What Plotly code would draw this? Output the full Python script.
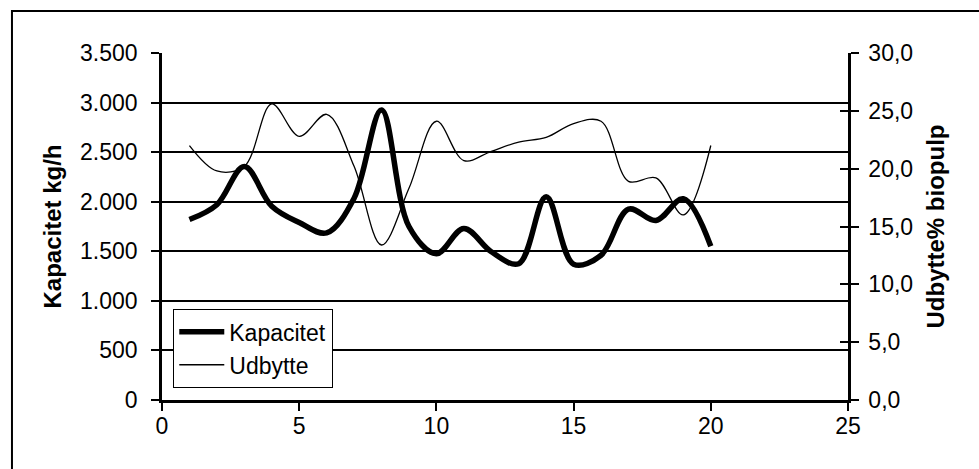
import plotly.graph_objects as go

# Measurement points
maaling = list(range(1, 21))

# Capacity, kg/h (left axis)
kapacitet = [1820, 1970, 2355, 1955, 1790, 1685, 2035, 2925, 1750, 1475,
             1730, 1495, 1375, 2050, 1370, 1460, 1925, 1810, 2030, 1550]

# Yield % biopulp (right axis)
udbytte = [22.0, 19.8, 20.2, 25.6, 22.8, 24.7, 20.2, 13.4, 18.3, 24.1,
           20.7, 21.5, 22.3, 22.7, 23.9, 24.1, 18.9, 19.2, 16.0, 22.0]

left_ticks = [0, 500, 1000, 1500, 2000, 2500, 3000, 3500]
right_ticks = [0, 5, 10, 15, 20, 25, 30]
x_ticks = [0, 5, 10, 15, 20, 25]

FONT = "Liberation Sans, Arial, sans-serif"
FS = 23
TFS = 24

fig = go.Figure()
fig.add_trace(go.Scatter(
    x=maaling, y=kapacitet, name="Kapacitet", mode="lines",
    line=dict(color="black", width=5.5, shape="spline", smoothing=1.0),
    yaxis="y"))
fig.add_trace(go.Scatter(
    x=maaling, y=udbytte, name="Udbytte", mode="lines",
    line=dict(color="black", width=1.3, shape="spline", smoothing=1.0),
    yaxis="y2"))

fig.update_layout(
    width=979, height=469,
    margin=dict(l=162, r=131, t=53, b=69),
    paper_bgcolor="white", plot_bgcolor="white",
    separators=",.",
    font=dict(family=FONT, size=FS, color="black"),
    showlegend=True,
    legend=dict(
        x=0.016, y=0.262, xanchor="left", yanchor="top",
        bgcolor="white", bordercolor="black", borderwidth=1.3,
        font=dict(family=FONT, size=FS, color="black"),
        tracegroupgap=0, itemwidth=45,
    ),
    xaxis=dict(
        range=[0, 25], tickvals=x_ticks, showgrid=False, zeroline=False,
        showline=True, linecolor="black", linewidth=2.5,
        ticks="outside", ticklen=8, tickwidth=1.5, tickcolor="black",
        tickfont=dict(family=FONT, size=FS), ticklabelstandoff=-4,
    ),
    yaxis=dict(
        range=[0, 3500], tickvals=left_ticks, tickformat=",d",
        showgrid=True, gridcolor="black", gridwidth=1.5, zeroline=False,
        showline=True, linecolor="black", linewidth=2.5,
        ticks="outside", ticklen=8, tickwidth=1.5, tickcolor="black",
        tickfont=dict(family=FONT, size=FS), ticklabelstandoff=9,
        title=dict(text="<b>Kapacitet kg/h</b>", font=dict(family=FONT, size=TFS), standoff=12),
    ),
    yaxis2=dict(
        range=[0, 30], tickvals=right_ticks, tickformat=".1f",
        overlaying="y", side="right", showgrid=False, zeroline=False,
        showline=True, linecolor="black", linewidth=2.5,
        ticks="outside", ticklen=8, tickwidth=1.5, tickcolor="black",
        tickfont=dict(family=FONT, size=FS), ticklabelstandoff=5,
        title=dict(text="<b>Udbytte% biopulp</b>", font=dict(family=FONT, size=TFS), standoff=16),
    ),
    yaxis3=dict(
        range=[0, 30], tickvals=right_ticks, overlaying="y", side="right",
        showgrid=False, zeroline=False, showline=False, showticklabels=False,
        ticks="inside", ticklen=8, tickwidth=1.5, tickcolor="black",
    ),
)

# Invisible trace so the inner tick marks of the right axis are rendered
fig.add_trace(go.Scatter(x=[None], y=[None], yaxis="y3", showlegend=False,
                         hoverinfo="skip"))

# Chart frame
fig.add_shape(type="rect", xref="paper", yref="paper",
              x0=-0.2187, x1=1.3, y0=-0.4, y1=1.121,
              line=dict(color="black", width=2), fillcolor="rgba(0,0,0,0)",
              layer="below")

fig.write_html("out.html")
